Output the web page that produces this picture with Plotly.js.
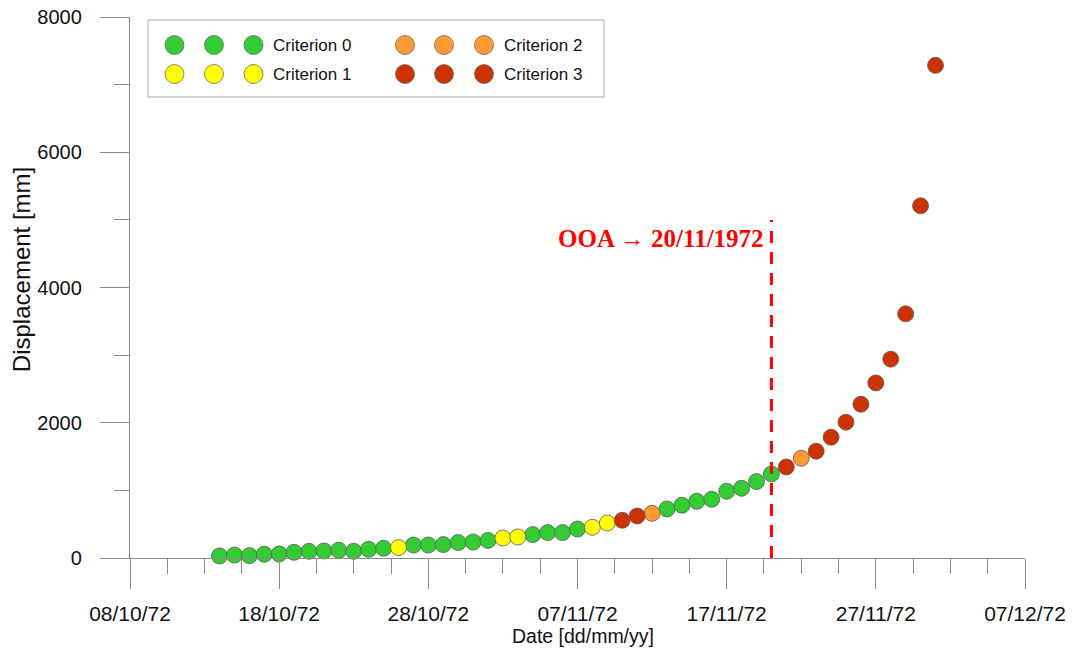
<!DOCTYPE html>
<html>
<head>
<meta charset="utf-8">
<script src="https://cdn.plot.ly/plotly-3.0.1.min.js"></script>
<style>html,body{margin:0;padding:0;background:#fff;}#chart{width:1073px;height:653px;}</style>
</head>
<body>
<div id="chart"></div>
<script>
// ---- data ----
const dates = [
  '1972-10-14','1972-10-15','1972-10-16','1972-10-17','1972-10-18','1972-10-19','1972-10-20',
  '1972-10-21','1972-10-22','1972-10-23','1972-10-24','1972-10-25','1972-10-26','1972-10-27',
  '1972-10-28','1972-10-29','1972-10-30','1972-10-31','1972-11-01','1972-11-02','1972-11-03',
  '1972-11-04','1972-11-05','1972-11-06','1972-11-07','1972-11-08','1972-11-09','1972-11-10',
  '1972-11-11','1972-11-12','1972-11-13','1972-11-14','1972-11-15','1972-11-16','1972-11-17',
  '1972-11-18','1972-11-19','1972-11-20','1972-11-21','1972-11-22','1972-11-23','1972-11-24',
  '1972-11-25','1972-11-26','1972-11-27','1972-11-28','1972-11-29','1972-11-30','1972-12-01'
];
const displacement = [
  30, 44, 35, 55, 59, 84, 99,
  104, 114, 99, 129, 143, 154, 192,
  192, 198, 228, 237, 260, 296, 311,
  346, 376, 376, 429, 454, 518, 558,
  621, 661, 725, 780, 839, 868, 987,
  1031, 1130, 1243, 1346, 1475, 1579, 1786,
  2008, 2274, 2589, 2940, 3610, 5208, 7285
];
const criterion = [
  0,0,0,0,0,0,0,
  0,0,0,0,0,1,0,
  0,0,0,0,0,1,1,
  0,0,0,0,1,1,3,
  3,2,0,0,0,0,0,
  0,0,0,3,2,3,3,
  3,3,3,3,3,3,3
];
const criterionNames = ['Criterion 0','Criterion 1','Criterion 2','Criterion 3'];
const criterionColors = ['#33CC33','#FFFF00','#FF9933','#CC3300'];
const ooaDate = '1972-11-20';
const ooaTop = 5000;
const ooaLabel = 'OOA \u2192 20/11/1972';
const yTickVals = [0, 2000, 4000, 6000, 8000];
const xTitle = 'Date [dd/mm/yy]';
const yTitle = 'Displacement [mm]';

// ---- traces ----
const traces = criterionNames.map((name, k) => {
  const xs = [], ys = [];
  criterion.forEach((c, i) => { if (c === k) { xs.push(dates[i]); ys.push(displacement[i]); } });
  return {
    type: 'scatter', mode: 'markers', name: name, x: xs, y: ys,
    showlegend: false, cliponaxis: false,
    marker: { size: 16, color: criterionColors[k], line: { color: '#5a5a5a', width: 0.8 } },
    hoverinfo: 'x+y'
  };
});

// ---- layout geometry helpers (paper coords from plot-area pixels) ----
const L = 130, R = 1025, T = 17, B = 557.7;
const px = v => (v - L) / (R - L);
const py = v => (B - v) / (B - T);

const shapes = [];
const annotations = [];

// OOA line
shapes.push({
  type: 'line', xref: 'x', yref: 'y', x0: ooaDate, x1: ooaDate, y0: 0, y1: ooaTop,
  line: { color: '#FF0000', width: 3, dash: '12px,9px' }, layer: 'above'
});
annotations.push({
  xref: 'x', yref: 'y', x: ooaDate, y: 4720, xanchor: 'right', yanchor: 'middle', xshift: -5,
  text: '<b>' + ooaLabel + '</b>', showarrow: false,
  font: { family: 'Liberation Serif, Times New Roman, serif', size: 25, color: '#FF0000' }
});

// axis titles
annotations.push({
  xref: 'paper', yref: 'paper', x: px(583), y: py(636), xanchor: 'center', yanchor: 'middle',
  text: xTitle, showarrow: false, font: { size: 19.5, color: '#111' }
});
annotations.push({
  xref: 'paper', yref: 'paper', x: px(21), y: py(270), xanchor: 'center', yanchor: 'middle',
  text: yTitle, textangle: -90, showarrow: false, font: { size: 24, color: '#111' }
});

// legend box
shapes.push({
  type: 'rect', xref: 'paper', yref: 'paper', x0: px(148), x1: px(604), y0: py(97), y1: py(20),
  line: { color: '#AAAAAA', width: 1 }, fillcolor: '#FFFFFF', layer: 'below'
});
const legCols = [[174.5, 214, 253.5, 271], [405, 444, 484, 501.5]];
const legRows = [45, 74];
const legendOrder = [[0, 1], [2, 3]]; // column -> criteria
legendOrder.forEach((crit, ci) => {
  crit.forEach((k, ri) => {
    const cy = legRows[ri];
    for (let j = 0; j < 3; j++) {
      const cx = legCols[ci][j];
      shapes.push({
        type: 'circle', xref: 'paper', yref: 'paper', xsizemode: 'pixel', ysizemode: 'pixel',
        xanchor: px(cx), yanchor: py(cy), x0: -9.5, x1: 9.5, y0: -9.5, y1: 9.5,
        fillcolor: criterionColors[k], line: { color: '#6a6a6a', width: 0.8 }, layer: 'above'
      });
    }
    annotations.push({
      xref: 'paper', yref: 'paper', x: px(legCols[ci][3]), y: py(cy), xanchor: 'left', yanchor: 'middle',
      text: criterionNames[k], showarrow: false,
      font: { family: 'Liberation Sans, Arial, sans-serif', size: 17, color: '#111' }
    });
  });
});

const layout = {
  width: 1073, height: 653,
  margin: { l: L, r: 1073 - R, t: T, b: 653 - B, pad: 0 },
  paper_bgcolor: '#FFFFFF', plot_bgcolor: '#FFFFFF',
  font: { family: 'Liberation Sans, Arial, sans-serif', color: '#111' },
  showlegend: false,
  xaxis: {
    type: 'date', range: ['1972-10-08', '1972-12-07'],
    tick0: '1972-10-08', dtick: 864000000, tickformat: '%d/%m/%y',
    ticks: 'outside', ticklen: 30, tickwidth: 1, tickcolor: '#8a8a8a',
    minor: { dtick: 216000000, tick0: '1972-10-08', ticks: 'outside', ticklen: 15, tickwidth: 1, tickcolor: '#8a8a8a' },
    showline: true, linecolor: '#8a8a8a', linewidth: 1.2,
    showgrid: false, zeroline: false,
    tickfont: { size: 21, color: '#111' }, ticklabelstandoff: 7
  },
  yaxis: {
    range: [0, 8000], tickvals: yTickVals, ticktext: yTickVals.map(String),
    ticks: 'outside', ticklen: 29, tickwidth: 1, tickcolor: '#8a8a8a',
    minor: { dtick: 1000, ticks: 'outside', ticklen: 15, tickwidth: 1, tickcolor: '#8a8a8a' },
    showline: true, linecolor: '#8a8a8a', linewidth: 1.2,
    showgrid: false, zeroline: false,
    tickfont: { size: 20, color: '#111' }, ticklabelstandoff: 14
  },
  shapes: shapes,
  annotations: annotations
};

Plotly.newPlot('chart', traces, layout, { displayModeBar: false, staticPlot: true });
</script>
</body>
</html>
